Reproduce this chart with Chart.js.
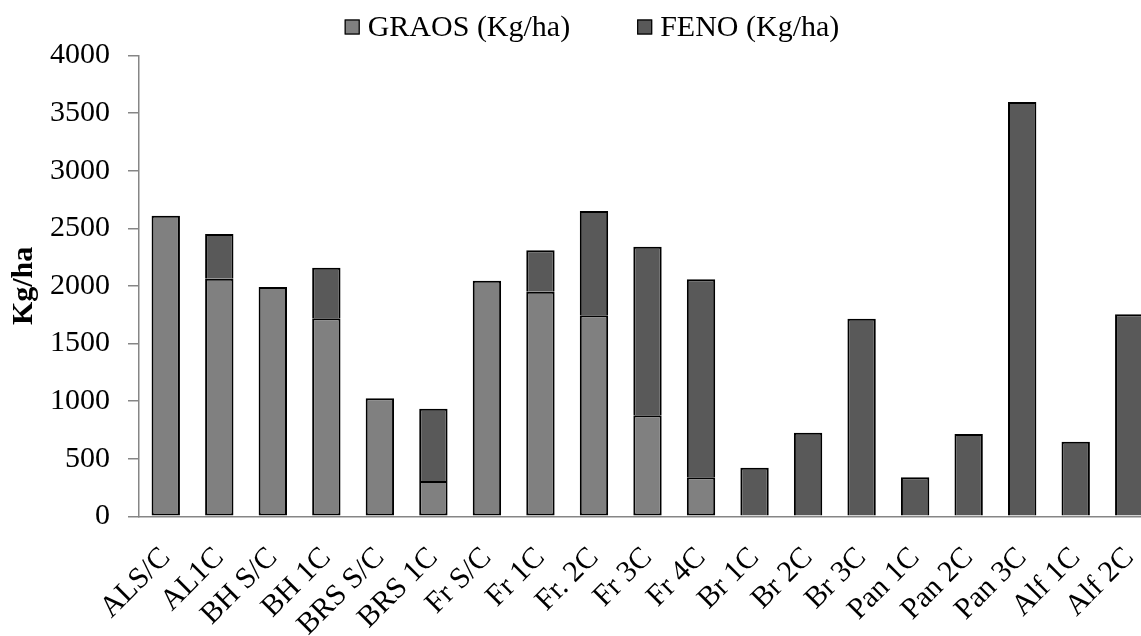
<!DOCTYPE html>
<html>
<head>
<meta charset="utf-8">
<script src="https://cdn.jsdelivr.net/npm/chart.js@4/dist/chart.umd.min.js"></script>
<style>
  html, body { margin: 0; padding: 0; background: #fff; overflow: hidden; }
  #wrap { position: relative; width: 1156px; height: 636px; }
</style>
</head>
<body>
<div id="wrap"><canvas id="chart"></canvas></div>
<script>
// Treatments along the x axis
const categories = ['ALS/C', 'AL1C', 'BH S/C', 'BH 1C', 'BRS S/C', 'BRS 1C', 'Fr S/C', 'Fr 1C', 'Fr. 2C',
  'Fr 3C', 'Fr 4C', 'Br 1C', 'Br 2C', 'Br 3C', 'Pan 1C', 'Pan 2C', 'Pan 3C', 'Alf 1C', 'Alf 2C'];

// Grain yield (Kg/ha)
const graos = [2610, 2063, 1990, 1719, 1025, 306, 2045, 1950, 1745, 877, 340,
  null, null, null, null, null, null, null, null];

// Hay yield (Kg/ha), stacked on top of the grain
const feno = [null, 387, null, 439, null, 628, null, 360, 905, 1463, 1717,
  422, 726, 1715, 338, 714, 3596, 648, 1753];

// Y axis range and step
const yMin = 0;
const yMax = 4000;
const yStep = 500;

const seriesNames = ['GRAOS (Kg/ha)', 'FENO (Kg/ha)'];
const axisTitle = 'Kg/ha';

const SERIF = "'Liberation Serif', 'Times New Roman', 'DejaVu Serif', serif";
const AXIS_GREY = '#868686';

// Legend drawn as a single row of square swatches above the plot
const topLegend = {
  id: 'topLegend',
  afterDraw(chart) {
    const ctx = chart.ctx;
    const box = 15, gapText = 8, gapItem = 67;
    ctx.save();
    ctx.font = '30px ' + SERIF;
    ctx.textBaseline = 'middle';
    ctx.textAlign = 'left';
    const items = chart.data.datasets.map(ds => ({
      text: ds.label, fill: ds.backgroundColor, w: ctx.measureText(ds.label).width
    }));
    const total = items.reduce((s, it) => s + box + gapText + it.w, 0) + gapItem * (items.length - 1);
    let x = 592 - total / 2;
    const cy = 27;
    items.forEach(it => {
      ctx.fillStyle = it.fill;
      ctx.fillRect(x, cy - box / 2, box, box);
      ctx.lineWidth = 1.2;
      ctx.strokeStyle = '#000';
      ctx.strokeRect(x + 0.5, cy - box / 2 + 0.5, box - 1, box - 1);
      ctx.fillStyle = '#000';
      ctx.fillText(it.text, x + box + gapText, cy + 1);
      x += box + gapText + it.w + gapItem;
    });
    ctx.restore();
  }
};

new Chart(document.getElementById('chart'), {
  type: 'bar',
  data: {
    labels: categories,
    datasets: [
      {
        label: seriesNames[0],
        data: graos,
        backgroundColor: '#808080',
        borderColor: '#000',
        borderWidth: 2,
        borderSkipped: false
      },
      {
        label: seriesNames[1],
        data: feno,
        backgroundColor: '#595959',
        borderColor: '#000',
        // no bottom edge: the grain segment's top edge already separates the two
        borderWidth: { top: 2, left: 2, right: 2, bottom: 0 },
        borderSkipped: false
      }
    ]
  },
  options: {
    responsive: true,
    maintainAspectRatio: false,
    devicePixelRatio: 1,
    animation: false,
    datasets: { bar: { categoryPercentage: 1, barPercentage: 0.53 } },
    layout: { padding: { top: 55.5, right: 0, bottom: 0, left: 0 } },
    plugins: {
      legend: { display: false },
      tooltip: { enabled: false }
    },
    scales: {
      x: {
        stacked: true,
        grid: { display: false },
        border: { display: true, color: AXIS_GREY, width: 1.5 },
        ticks: {
          autoSkip: false,
          maxRotation: 45,
          minRotation: 45,
          padding: 16,
          color: '#000',
          font: { family: SERIF, size: 30 }
        },
        afterFit(scale) {
          scale.height = 119.7;
          scale.paddingLeft = 0;
          scale.paddingRight = 0;
        }
      },
      y: {
        stacked: true,
        min: yMin,
        max: yMax,
        grid: { drawOnChartArea: false, drawTicks: true, tickLength: 11, color: AXIS_GREY, lineWidth: 1.5 },
        border: { display: true, color: AXIS_GREY, width: 1.5 },
        ticks: {
          stepSize: yStep,
          padding: 18,
          color: '#000',
          font: { family: SERIF, size: 30 },
          callback: (value) => String(value)
        },
        title: {
          display: true,
          text: axisTitle,
          color: '#000',
          padding: { top: 6, bottom: 0 },
          font: { family: SERIF, size: 30, weight: 'bold' }
        },
        afterFit(scale) { scale.width = 139; }
      }
    }
  },
  plugins: [topLegend]
});
</script>
</body>
</html>
